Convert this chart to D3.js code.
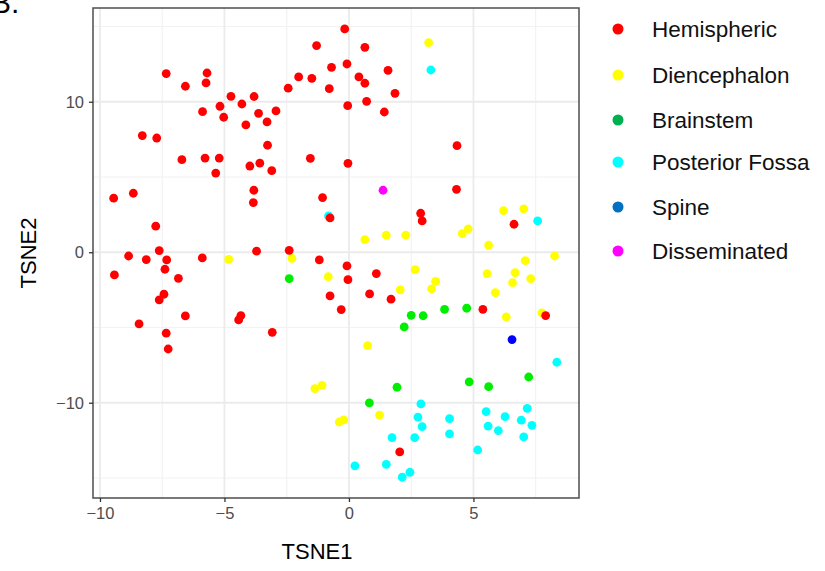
<!DOCTYPE html>
<html lang="en">
<head>
  <meta charset="UTF-8">
  <title>TSNE</title>
  <style>
    body { margin: 0; background: #fff; }
    text { font-family: "Liberation Sans", Arial, sans-serif; }
  </style>
</head>
<body>
  <div id="my-div"></div>
  <script src="https://d3js.org/d3.v7.min.js"></script>
  <script>

    // values, [TSNE1, TSNE2]
    var hemispheric = [
      [-7.34, 11.87], [-5.70, 11.91], [-6.57, 11.03], [-5.74, 11.25], [-4.74, 10.36], [-3.81, 10.35],
      [-5.18, 9.70], [-4.30, 9.85], [-5.88, 9.34], [-5.03, 8.97], [-4.14, 8.46], [-3.63, 9.23],
      [-8.30, 7.75], [-7.72, 7.59], [-6.71, 6.15], [-5.78, 6.26], [-5.21, 6.26], [-5.35, 5.26],
      [-3.98, 5.73], [-3.58, 5.92], [-0.17, 14.84], [-1.30, 13.73], [0.64, 13.62], [1.57, 12.09],
      [-0.70, 12.29], [-0.08, 12.51], [-2.02, 11.65], [-1.49, 11.56], [0.40, 11.65], [0.64, 11.23],
      [-2.44, 10.90], [-0.79, 10.87], [1.85, 10.56], [0.71, 10.03], [-0.05, 9.74], [1.42, 9.32],
      [-2.93, 9.39], [-3.29, 8.66], [-3.27, 7.11], [-3.10, 5.42], [-1.55, 6.24], [-0.04, 5.91],
      [4.34, 7.08], [-9.45, 3.59], [-8.66, 3.92], [-3.82, 4.12], [-3.84, 3.30], [-7.76, 1.73],
      [-7.62, 0.11], [-8.85, -0.25], [-8.14, -0.49], [-7.32, -0.51], [-7.39, -1.13], [-5.89, -0.38],
      [-3.71, 0.07], [-9.42, -1.51], [-6.85, -1.73], [-7.43, -2.79], [-7.62, -3.17], [-6.57, -4.23],
      [-8.43, -4.76], [-4.34, -4.21], [-4.43, -4.50], [-7.34, -5.38], [-7.26, -6.43], [-3.08, -5.32],
      [-1.06, 3.63], [-0.76, 2.28], [2.88, 2.59], [2.94, 2.08], [-2.40, 0.13], [-1.19, -0.51],
      [-0.08, -0.91], [-0.04, -1.82], [1.10, -1.42], [-0.76, -2.90], [0.83, -2.77], [1.69, -3.12],
      [-0.31, -3.81], [4.32, 4.18], [6.63, 1.86], [5.38, -3.79], [7.90, -4.21], [2.04, -13.27]
    ];
    var diencephalon = [
      [3.20, 13.93], [-4.83, -0.47], [0.64, 0.84], [1.50, 1.13], [2.28, 1.13], [-2.29, -0.40],
      [-0.83, -1.62], [2.66, -1.15], [2.06, -2.50], [6.21, 2.76], [7.02, 2.88], [4.79, 1.55],
      [4.55, 1.24], [5.61, 0.47], [7.08, -0.56], [8.26, -0.25], [6.67, -1.36], [5.55, -1.42],
      [7.30, -1.75], [6.57, -2.02], [3.48, -1.93], [3.32, -2.44], [5.88, -2.68], [6.32, -4.30],
      [7.75, -4.03], [0.75, -6.20], [-1.37, -9.06], [-1.08, -8.84], [1.23, -10.83], [-0.39, -11.28],
      [-0.21, -11.14]
    ];
    var brainstem = [
      [-2.40, -1.75], [2.50, -4.19], [2.98, -4.22], [2.22, -4.96], [3.84, -3.79], [4.73, -3.72],
      [1.93, -8.97], [0.82, -10.01], [4.83, -8.62], [5.61, -8.93], [7.22, -8.29]
    ];
    var posteriorFossa = [
      [3.29, 12.11], [-0.82, 2.41], [7.58, 2.08], [8.35, -7.31], [2.89, -10.08], [2.77, -10.96],
      [2.94, -11.59], [1.73, -12.32], [2.64, -12.32], [0.24, -14.20], [1.50, -14.09], [2.45, -14.62],
      [2.14, -14.95], [4.04, -11.06], [4.04, -12.07], [5.51, -10.59], [5.59, -11.56], [6.00, -11.85],
      [6.27, -10.92], [6.92, -11.16], [7.16, -10.37], [7.35, -11.50], [7.02, -12.27], [5.17, -13.14]
    ];
    var spine = [[6.55, -5.80]];
    var disseminated = [[1.37, 4.12]];

    var groups = ["Hemispheric", "Diencephalon", "Brainstem", "Posterior Fossa", "Spine", "Disseminated"];
    var pointColors = ["#ff0000", "#ffff00", "#00ee00", "#00ffff", "#0000ff", "#ff00ff"];
    var legendColors = ["#ff0000", "#ffff00", "#00b050", "#00ffff", "#0070c0", "#ff00ff"];
    var xTicks = [-10, -5, 0, 5];
    var yTicks = [-10, 0, 10];

    // red is drawn last, it sits on top of the others
    var drawOrder = [
      [diencephalon, 1], [brainstem, 2], [posteriorFossa, 3], [spine, 4], [disseminated, 5], [hemispheric, 0]
    ];

    var W = 825, H = 571;
    var panel = {left: 93, right: 579, top: 8, bottom: 498};

    var x = d3.scaleLinear().domain([-10.28, 9.24]).range([panel.left, panel.right]);
    var y = d3.scaleLinear().domain([-16.33, 16.23]).range([panel.bottom, panel.top]);

    var svg = d3.select("#my-div").append("svg")
        .attr("width", W)
        .attr("height", H);

    // cut-off panel letter at the top-left corner
    svg.append("text")
        .attr("x", -9)
        .attr("y", 13)
        .attr("font-size", 30)
        .attr("fill", "#000")
        .text("B.");

    // grid
    var grid = svg.append("g");
    var xMinor = [-7.5, -2.5, 2.5, 7.5];
    var yMinor = [-15, -5, 5, 15];
    grid.selectAll("line.xmin").data(xMinor).enter().append("line")
        .attr("x1", d => x(d)).attr("x2", d => x(d))
        .attr("y1", panel.top).attr("y2", panel.bottom)
        .attr("stroke", "#f2f2f2").attr("stroke-width", 1.2);
    grid.selectAll("line.ymin").data(yMinor).enter().append("line")
        .attr("y1", d => y(d)).attr("y2", d => y(d))
        .attr("x1", panel.left).attr("x2", panel.right)
        .attr("stroke", "#f2f2f2").attr("stroke-width", 1.2);
    grid.selectAll("line.xmaj").data(xTicks).enter().append("line")
        .attr("x1", d => x(d)).attr("x2", d => x(d))
        .attr("y1", panel.top).attr("y2", panel.bottom)
        .attr("stroke", "#ebebeb").attr("stroke-width", 1.8);
    grid.selectAll("line.ymaj").data(yTicks).enter().append("line")
        .attr("y1", d => y(d)).attr("y2", d => y(d))
        .attr("x1", panel.left).attr("x2", panel.right)
        .attr("stroke", "#ebebeb").attr("stroke-width", 1.8);

    // points
    var pts = svg.append("g");
    drawOrder.forEach(function(g) {
      pts.append("g").selectAll("circle")
          .data(g[0])
          .enter()
          .append("circle")
          .attr("cx", d => x(d[0]))
          .attr("cy", d => y(d[1]))
          .attr("r", 4.4)
          .attr("fill", pointColors[g[1]]);
    });

    // panel border
    svg.append("rect")
        .attr("x", panel.left).attr("y", panel.top)
        .attr("width", panel.right - panel.left)
        .attr("height", panel.bottom - panel.top)
        .attr("fill", "none")
        .attr("stroke", "#4d4d4d")
        .attr("stroke-width", 1.5);

    // axes
    var xAxis = d3.axisBottom(x).tickValues(xTicks).tickSize(4).tickPadding(5);
    var yAxis = d3.axisLeft(y).tickValues(yTicks).tickSize(4).tickPadding(5);

    var gx = svg.append("g")
        .attr("transform", "translate(0," + panel.bottom + ")")
        .call(xAxis);
    var gy = svg.append("g")
        .attr("transform", "translate(" + panel.left + ",0)")
        .call(yAxis);

    [gx, gy].forEach(function(g) {
      g.select(".domain").remove();
      g.selectAll(".tick line").attr("stroke", "#333").attr("stroke-width", 1.3);
      g.selectAll(".tick text")
          .attr("fill", "#4d4d4d")
          .attr("font-size", 16.5)
          .attr("font-family", "Liberation Sans, Arial, sans-serif");
    });

    svg.append("text")
        .attr("x", 317)
        .attr("y", 559)
        .attr("text-anchor", "middle")
        .attr("font-size", 22)
        .attr("fill", "#000")
        .text("TSNE1");

    svg.append("text")
        .attr("transform", "translate(36," + ((panel.top + panel.bottom) / 2) + ") rotate(-90)")
        .attr("text-anchor", "middle")
        .attr("font-size", 22)
        .attr("fill", "#000")
        .text("TSNE2");

    // legend
    var legY = [29, 75, 120, 162, 207, 251];
    var leg = svg.append("g").selectAll("g")
        .data(groups)
        .enter()
        .append("g")
        .attr("transform", (d, i) => "translate(0," + legY[i] + ")");

    leg.append("circle")
        .attr("cx", 618)
        .attr("cy", 0)
        .attr("r", 5.5)
        .attr("fill", (d, i) => legendColors[i]);

    leg.append("text")
        .attr("x", 652)
        .attr("y", 8)
        .attr("font-size", 22.5)
        .attr("fill", "#111")
        .text(d => d);

  </script>
</body>
</html>
